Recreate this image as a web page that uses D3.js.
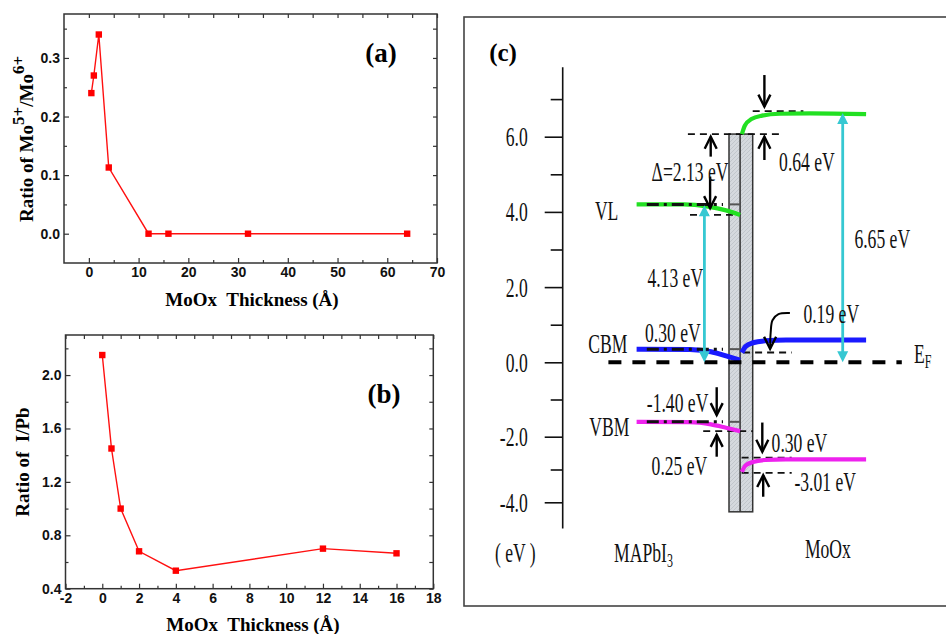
<!DOCTYPE html>
<html>
<head>
<meta charset="utf-8">
<script src="https://cdn.jsdelivr.net/npm/d3@7"></script>
<style>
  body { margin: 0; background: #fff; }
  svg { display: block; }
</style>
</head>
<body>
<script>
// panel (a): Mo5+/Mo6+ ratio vs MoOx thickness
var thickA = [0.5, 1, 2, 4, 12, 16, 32, 64];
var ratioMo = [0.24, 0.27, 0.34, 0.113, 0, 0, 0, 0];
var ticksAX = [0, 10, 20, 30, 40, 50, 60, 70];
var minorAX = [5, 15, 25, 35, 45, 55, 65];
var ticksAY = [0, 0.1, 0.2, 0.3];
var minorAY = [0.05, 0.15, 0.25, 0.35];

// panel (b): I/Pb ratio vs MoOx thickness
var thickB = [0, 0.5, 1, 2, 4, 12, 16];
var ratioIPb = [2.15, 1.45, 1.0, 0.68, 0.535, 0.70, 0.665];
var ticksBX = [-2, 0, 2, 4, 6, 8, 10, 12, 14, 16, 18];
var minorBX = [-1, 1, 3, 5, 7, 9, 11, 13, 15, 17];
var ticksBY = [0.4, 0.8, 1.2, 1.6, 2.0];
var minorBY = [0.6, 1.0, 1.4, 1.8, 2.2];

// panel (c): energy level diagram (x in schematic units, y in eV as drawn)
var energyTicks = [6, 4, 2, 0, -2, -4];
var energyMinor = [7, 5, 3, 1, -1, -3];
var vlLeft = [[12.2, 4.2], [28, 4.2], [36, 4.14], [42, 4.04], [46.7, 3.92]];
var vlRight = [[47.3, 6.07], [48.3, 6.3], [50.5, 6.47], [54, 6.56], [60, 6.61], [70, 6.62], [88.7, 6.6]];
var cbmLeft = [[12.2, 0.35], [30, 0.34], [37, 0.28], [42, 0.17], [46.7, 0.06]];
var cbmRight = [[47.3, 0.26], [48.5, 0.42], [51, 0.52], [55, 0.57], [62, 0.59], [88.7, 0.59]];
var vbmLeft = [[12.2, -1.6], [30, -1.61], [37, -1.67], [42, -1.76], [46.7, -1.85]];
var vbmRight = [[47.3, -3.07], [48.5, -2.88], [51, -2.77], [55, -2.71], [62, -2.69], [88.7, -2.69]];
var bandColors = ["#22e022", "#22e022", "#1a1aff", "#1a1aff", "#ee22ee", "#ee22ee"];
var dashDotLevels = [4.2, 0.35, -1.6];
var refLines = [[30, 46.7, 3.92], [29.3, 61, 6.07], [50.9, 67.8, 6.68], [47.7, 63.9, 0.26],
                [34.4, 51, -1.85], [47.2, 63.9, -2.64], [47.2, 63.9, -3.1]];
var blackArrows = [[54.8, 7.64, 6.8], [36.9, 5.47, 6.0], [54.8, 5.38, 6.0], [36.7, 4.94, 4.1],
                   [38.9, -0.67, -1.42], [38.9, -2.61, -1.95], [54.1, -1.62, -2.46], [54.4, -3.83, -3.17]];
var cyanArrows = [[34.8, 4.18, 0], [80.9, 6.63, 0]];
var curvedArrow = [[63.3, 1.31], [59.5, 1.28], [57.5, 1.12], [56.9, 0.8], [56.7, 0.36]];
var labelsC = [
	["Δ=2.13 eV", 17.2, 4.82], ["0.64 eV", 59.7, 5.09], ["6.65 eV", 84.8, 3.03],
	["VL", -1.7, 3.78], ["4.13 eV", 15.8, 1.99], ["0.19 eV", 67.8, 1.05],
	["0.30 eV", 15, 0.55], ["CBM", -3.9, 0.24], ["-1.40 eV", 15.6, -1.33],
	["VBM", -3.6, -1.97], ["0.25 eV", 17.2, -3.17], ["0.30 eV", 57.2, -2.46],
	["-3.01 eV", 64.8, -3.65], ["( eV )", -35, -5.83], ["MoOx", 68.3, -5.69]
];

var W = 946, H = 634;
var svg = d3.select("body").append("svg").attr("width", W).attr("height", H);
svg.append("rect").attr("width", W).attr("height", H).attr("fill", "#fff");

var SANS = "'Liberation Sans', Arial, sans-serif";
var SERIF = "'Liberation Serif', 'Times New Roman', serif";
var SX = 0.8, SY = 1.2;   // the diagram text is drawn narrow and tall

function styleAxis(g) {
	g.select(".domain").remove();
	g.attr("font-family", SANS).attr("font-size", 14).attr("font-weight", "bold");
	g.selectAll(".tick line").attr("stroke", "#333").attr("stroke-width", 1.2);
	g.selectAll("text").attr("fill", "#111");
}

function xyPanel(opt) {
	var g = svg.append("g");
	var x = opt.x, y = opt.y;
	var r = x.range(), ry = y.range();

	g.append("g").attr("transform", "translate(0," + ry[0] + ")")
		.call(d3.axisBottom(x).tickValues(opt.tx).tickSize(-5).tickPadding(4).tickFormat(opt.fmtX)).call(styleAxis);
	g.append("g").attr("transform", "translate(0," + ry[0] + ")")
		.call(d3.axisBottom(x).tickValues(opt.mx).tickSize(-3).tickFormat("")).call(styleAxis);
	g.append("g").attr("transform", "translate(0," + ry[1] + ")")
		.call(d3.axisTop(x).tickValues(opt.tx.concat(opt.mx)).tickSize(-4).tickFormat("")).call(styleAxis);
	g.append("g").attr("transform", "translate(" + r[0] + ",0)")
		.call(d3.axisLeft(y).tickValues(opt.ty).tickSize(-5).tickPadding(4).tickFormat(opt.fmtY)).call(styleAxis);
	g.append("g").attr("transform", "translate(" + r[0] + ",0)")
		.call(d3.axisLeft(y).tickValues(opt.my).tickSize(-3).tickFormat("")).call(styleAxis);
	g.append("g").attr("transform", "translate(" + r[1] + ",0)")
		.call(d3.axisRight(y).tickValues(opt.ty.concat(opt.my)).tickSize(-4).tickFormat("")).call(styleAxis);

	g.append("rect")
		.attr("x", r[0]).attr("y", ry[1])
		.attr("width", r[1] - r[0]).attr("height", ry[0] - ry[1])
		.attr("fill", "none").attr("stroke", "#333").attr("stroke-width", 1.5);

	var pts = opt.xs.map(function (d, i) { return [d, opt.ys[i]]; });
	g.append("path")
		.attr("d", d3.line().x(function (d) { return x(d[0]); }).y(function (d) { return y(d[1]); })(pts))
		.attr("fill", "none").attr("stroke", "#ff1010").attr("stroke-width", 1.4);
	g.selectAll(".pt").data(pts).enter().append("rect")
		.attr("x", function (d) { return x(d[0]) - 3.2; })
		.attr("y", function (d) { return y(d[1]) - 3.2; })
		.attr("width", 6.4).attr("height", 6.4).attr("fill", "#ff0000");
	return g;
}

// ---------- panel (a)
var xA = d3.scaleLinear().domain([-5, 70]).range([64, 437]);
var yA = d3.scaleLinear().domain([-0.05, 0.375]).range([263, 14]);
var gA = xyPanel({x: xA, y: yA, tx: ticksAX, mx: minorAX, ty: ticksAY, my: minorAY,
	xs: thickA, ys: ratioMo,
	fmtX: function (d) { return String(d); }, fmtY: function (d) { return d.toFixed(1); }});

gA.append("text").attr("x", 381).attr("y", 62).attr("text-anchor", "middle")
	.attr("font-family", SERIF).attr("font-weight", "bold").attr("font-size", 27).text("(a)");
gA.append("text").attr("x", 252).attr("y", 306).attr("text-anchor", "middle")
	.attr("font-family", SERIF).attr("font-weight", "bold").attr("font-size", 19)
	.style("white-space", "pre").text("MoOx  Thickness (Å)");
var tA = gA.append("text").attr("transform", "translate(33,139) rotate(-90)").attr("text-anchor", "middle")
	.attr("font-family", SERIF).attr("font-weight", "bold").attr("font-size", 19);
tA.append("tspan").text("Ratio of Mo");
tA.append("tspan").attr("dy", -9).attr("font-size", 17).text("5+");
tA.append("tspan").attr("dy", 9).text("/Mo");
tA.append("tspan").attr("dy", -9).attr("font-size", 17).text("6+");

// ---------- panel (b)
var xB = d3.scaleLinear().domain([-2, 18]).range([65.5, 433.3]);
var yB = d3.scaleLinear().domain([0.4, 2.3]).range([588.7, 335]);
var gB = xyPanel({x: xB, y: yB, tx: ticksBX, mx: minorBX, ty: ticksBY, my: minorBY,
	xs: thickB, ys: ratioIPb,
	fmtX: function (d) { return String(d); }, fmtY: function (d) { return d.toFixed(1); }});

gB.append("text").attr("x", 384).attr("y", 403).attr("text-anchor", "middle")
	.attr("font-family", SERIF).attr("font-weight", "bold").attr("font-size", 27).text("(b)");
gB.append("text").attr("x", 253).attr("y", 631).attr("text-anchor", "middle")
	.attr("font-family", SERIF).attr("font-weight", "bold").attr("font-size", 19)
	.style("white-space", "pre").text("MoOx  Thickness (Å)");
gB.append("text").attr("transform", "translate(29,462) rotate(-90)").attr("text-anchor", "middle")
	.attr("font-family", SERIF).attr("font-weight", "bold").attr("font-size", 19)
	.style("white-space", "pre").text("Ratio of  I/Pb");

// ---------- panel (c)
var xC = d3.scaleLinear().domain([0, 100]).range([600, 900]);
var yC = d3.scaleLinear().domain([-4, -2, 0, 6]).range([502.3, 436.7, 362.3, 136.7]);
var gC = svg.append("g");

var defs = svg.append("defs");
var pat = defs.append("pattern").attr("id", "hatch").attr("patternUnits", "userSpaceOnUse")
	.attr("width", 4).attr("height", 4);
pat.append("rect").attr("width", 4).attr("height", 4).attr("fill", "#d5d9de");
pat.append("path").attr("d", "M0,4 L4,0").attr("stroke", "#b3b8bf").attr("stroke-width", 0.6);

gC.append("rect").attr("x", 464).attr("y", 17).attr("width", 500).attr("height", 589)
	.attr("fill", "none").attr("stroke", "#444").attr("stroke-width", 1.6);

gC.append("text").attr("x", 503).attr("y", 61).attr("text-anchor", "middle")
	.attr("font-family", SERIF).attr("font-weight", "bold").attr("font-size", 25).text("(c)");

// energy axis
var axX = 562.7;
gC.append("line").attr("x1", axX).attr("x2", axX).attr("y1", yC(7.85)).attr("y2", yC(-4.8))
	.attr("stroke", "#111").attr("stroke-width", 1.6);
var axC = gC.append("g").attr("transform", "translate(" + axX + ",0)")
	.call(d3.axisLeft(yC).tickValues(energyTicks).tickSize(18).tickPadding(0).tickFormat(function (d) { return d.toFixed(1); }));
axC.select(".domain").remove();
axC.selectAll(".tick line").attr("stroke", "#111").attr("stroke-width", 1.6);
axC.selectAll("text").attr("x", -35 / SX).attr("dy", "0.34em").attr("transform", "scale(" + SX + "," + SY + ")")
	.attr("font-family", SERIF).attr("font-size", 22).attr("fill", "#111");
var axCm = gC.append("g").attr("transform", "translate(" + axX + ",0)")
	.call(d3.axisLeft(yC).tickValues(energyMinor).tickSize(12).tickFormat(""));
axCm.select(".domain").remove();
axCm.selectAll(".tick line").attr("stroke", "#111").attr("stroke-width", 1.6);

// interface layer
var rectX0 = 43, rectX1 = 50.9, rectMid = 46.7, rectTop = 6.07, rectBot = -4.29;
gC.append("rect").attr("x", xC(rectX0)).attr("y", yC(rectTop))
	.attr("width", xC(rectX1) - xC(rectX0)).attr("height", yC(rectBot) - yC(rectTop))
	.attr("fill", "url(#hatch)").attr("stroke", "#333").attr("stroke-width", 1.5);
gC.append("line").attr("x1", xC(rectMid)).attr("x2", xC(rectMid)).attr("y1", yC(rectTop)).attr("y2", yC(rectBot))
	.attr("stroke", "#333").attr("stroke-width", 1.5);
dashDotLevels.forEach(function (e) {
	gC.append("line").attr("x1", xC(rectX0)).attr("x2", xC(rectMid)).attr("y1", yC(e)).attr("y2", yC(e))
		.attr("stroke", "#555").attr("stroke-width", 2);
});

// thin dashed reference lines
refLines.forEach(function (d) {
	gC.append("line").attr("x1", xC(d[0])).attr("x2", xC(d[1])).attr("y1", yC(d[2])).attr("y2", yC(d[2]))
		.attr("stroke", "#111").attr("stroke-width", 1.8).attr("stroke-dasharray", "7,5");
});

// bands
var bandLine = d3.line().x(function (d) { return xC(d[0]); }).y(function (d) { return yC(d[1]); })
	.curve(d3.curveMonotoneX);
[vlLeft, vlRight, cbmLeft, cbmRight, vbmLeft, vbmRight].forEach(function (b, i) {
	gC.append("path").attr("d", bandLine(b)).attr("fill", "none")
		.attr("stroke", bandColors[i]).attr("stroke-width", i === 2 || i === 3 ? 5 : 4.2)
		.attr("stroke-linecap", "butt");
});

// dash-dot lines over left bands
dashDotLevels.forEach(function (e) {
	gC.append("line").attr("x1", xC(15.6)).attr("x2", xC(41)).attr("y1", yC(e)).attr("y2", yC(e))
		.attr("stroke", "#111").attr("stroke-width", 3).attr("stroke-dasharray", "12,5,3,5");
});

// Fermi level
gC.append("line").attr("x1", xC(2.8)).attr("x2", xC(100.6)).attr("y1", yC(0)).attr("y2", yC(0))
	.attr("stroke", "#000").attr("stroke-width", 4).attr("stroke-dasharray", "13,11");

// black arrows with open heads
function openHead(g, x, y, dir) {
	g.append("path").attr("d", "M" + (x - 6) + "," + (y - dir * 12) + "L" + x + "," + y + "L" + (x + 6) + "," + (y - dir * 12))
		.attr("fill", "none").attr("stroke", "#000").attr("stroke-width", 2.4);
}
blackArrows.forEach(function (a) {
	var x = xC(a[0]), y0 = yC(a[1]), y1 = yC(a[2]);
	var dir = y1 > y0 ? 1 : -1;
	gC.append("line").attr("x1", x).attr("x2", x).attr("y1", y0).attr("y2", y1)
		.attr("stroke", "#000").attr("stroke-width", 2.4);
	openHead(gC, x, y1, dir);
});

// cyan double arrows
function solidHead(g, x, y, dir) {
	g.append("path").attr("d", "M" + (x - 5.5) + "," + (y - dir * 11) + "L" + x + "," + y + "L" + (x + 5.5) + "," + (y - dir * 11) + "Z")
		.attr("fill", "#36c8d2").attr("stroke", "none");
}
cyanArrows.forEach(function (a) {
	var x = xC(a[0]), y0 = yC(a[1]), y1 = yC(a[2]);
	gC.append("line").attr("x1", x).attr("x2", x).attr("y1", y0 + 8).attr("y2", y1 - 8)
		.attr("stroke", "#36c8d2").attr("stroke-width", 2.8);
	solidHead(gC, x, y0, -1);
	solidHead(gC, x, y1, 1);
});

// curved arrow for 0.19 eV
gC.append("path").attr("d", d3.line().x(function (d) { return xC(d[0]); }).y(function (d) { return yC(d[1]); })
	.curve(d3.curveCatmullRom)(curvedArrow))
	.attr("fill", "none").attr("stroke", "#000").attr("stroke-width", 2);
var last = curvedArrow[curvedArrow.length - 1];
openHead(gC, xC(last[0]), yC(last[1]), 1);

// labels
function label(t, x, y) {
	return gC.append("text").attr("transform", "translate(" + x + "," + y + ") scale(" + SX + "," + SY + ")")
		.attr("font-family", SERIF).attr("font-size", 22).attr("fill", "#111")
		.style("white-space", "pre").text(t);
}
labelsC.forEach(function (d) { label(d[0], xC(d[1]), yC(d[2])); });

var ef = label("E", xC(104.7), yC(-0.03));
ef.append("tspan").attr("font-size", 15).attr("dy", 4).text("F");
var mapi = label("MAPbI", xC(4.7), yC(-5.83));
mapi.append("tspan").attr("font-size", 15).attr("dy", 4).text("3");
</script>
</body>
</html>
